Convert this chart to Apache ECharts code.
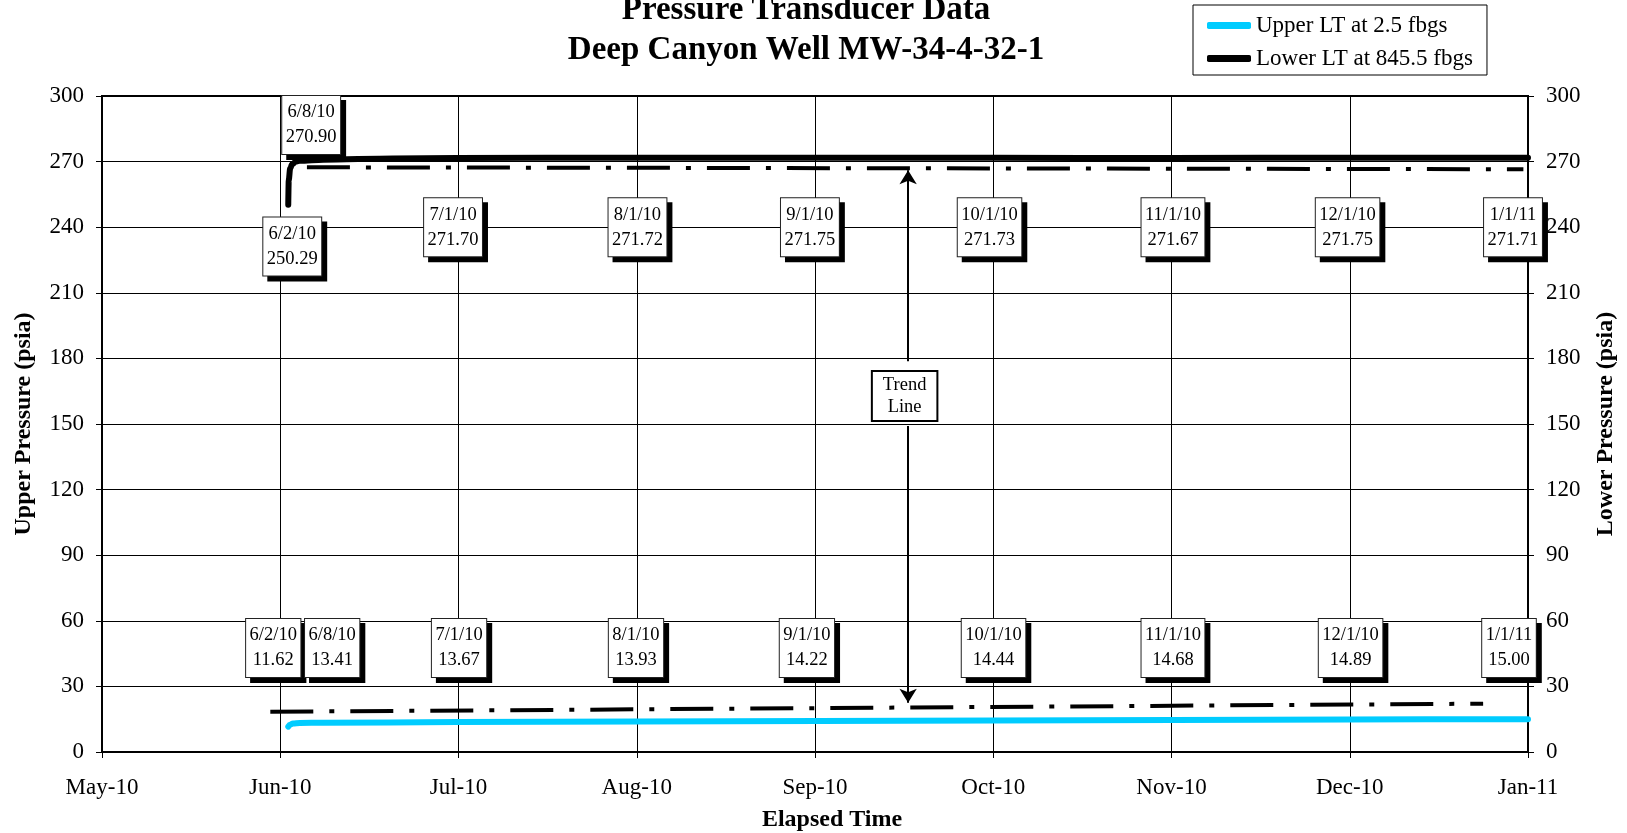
<!DOCTYPE html>
<html>
<head>
<meta charset="utf-8">
<script src="https://cdn.jsdelivr.net/npm/echarts@6/dist/echarts.min.js"></script>
<style>
html,body{margin:0;padding:0;background:#fff;}
#chart{width:1627px;height:833px;}
</style>
</head>
<body>
<div id="chart"></div>
<script>
// ---------- DATA ----------
const xTickLabels = ['May-10','Jun-10','Jul-10','Aug-10','Sep-10','Oct-10','Nov-10','Dec-10','Jan-11'];

const upperDates  = ['2010-06-02 00:00','2010-06-02 07:00','2010-06-02 19:00','2010-06-04 00:00','2010-06-08 00:00','2010-07-01 00:00','2010-08-01 00:00','2010-09-01 00:00','2010-10-01 00:00','2010-11-01 00:00','2010-12-01 00:00','2011-01-01 00:00'];
const upperValues = [11.62, 12.5, 13.0, 13.3, 13.41, 13.67, 13.93, 14.22, 14.44, 14.68, 14.89, 15.00];

const lowerDates  = ['2010-06-02 00:00','2010-06-02 02:00','2010-06-02 08:00','2010-06-02 16:00','2010-06-03 06:00','2010-06-04 00:00','2010-06-08 00:00','2010-06-20 00:00','2010-07-01 00:00','2010-08-01 00:00','2010-09-01 00:00','2010-10-01 00:00','2010-11-01 00:00','2010-12-01 00:00','2011-01-01 00:00'];
const lowerValues = [250.29, 261.5, 267.0, 268.8, 269.9, 270.4, 270.90, 271.4, 271.70, 271.72, 271.75, 271.73, 271.67, 271.75, 271.71];

const upperTrendDates  = ['2010-05-29 22:00','2010-12-24 07:00'];
const upperTrendValues = [18.4, 22.1];
const lowerTrendDates  = ['2010-06-05 05:00','2010-12-31 05:00'];
const lowerTrendValues = [267.4, 266.5];

const lowerNoteDates  = ['6/2/10','6/8/10','7/1/10','8/1/10','9/1/10','10/1/10','11/1/10','12/1/10','1/1/11'];
const lowerNoteValues = ['250.29','270.90','271.70','271.72','271.75','271.73','271.67','271.75','271.71'];
const upperNoteDates  = ['6/2/10','6/8/10','7/1/10','8/1/10','9/1/10','10/1/10','11/1/10','12/1/10','1/1/11'];
const upperNoteValues = ['11.62','13.41','13.67','13.93','14.22','14.44','14.68','14.89','15.00'];

const seriesNames = ['Upper LT at 2.5 fbgs','Lower LT at 845.5 fbgs'];
const trendNoteText = 'Trend\nLine';

// ---------- LAYOUT (placement of the annotation boxes: [x offset px, level on axis]) ----------
const lowerNoteLayout = [[4,231.2],[-12,286.7],[-4,240],[0,240],[-8,240],[-3,240],[0,240],[0,240],[-15,240]];
const upperNoteLayout = [[-15,47.6],[9,47.6],[2,47.6],[-1.5,47.6],[-11,47.6],[1,47.6],[0,47.6],[3,47.6],[-19,47.6]];
const trendArrowDate = '2010-09-16 12:00';
const trendArrowSpans = [[178.7, 266.0],[149.1, 22.5]];
const trendBoxLevel = 162.8;

// ---------- helpers ----------
const ORIGIN = Date.UTC(2010,4,1);
const DAY = 86400000;
const monthStep = 245/8;
function dayOf(s){
  const [d,t] = s.split(' ');
  const [y,m,dd] = d.split('-').map(Number);
  const [hh,mm] = (t||'00:00').split(':').map(Number);
  return (Date.UTC(y,m-1,dd,hh,mm) - ORIGIN)/DAY;
}
function dayOfMDY(s){
  const [m,d,y] = s.split('/').map(Number);
  return (Date.UTC(2000+y,m-1,d) - ORIGIN)/DAY;
}
const pairs = (xs, ys, f) => xs.map((x,i)=>[f(x), ys[i]]);

const FONT = '"Liberation Serif","Times New Roman",serif';

const noteLabelBase = {
  show: true, position: 'inside', fontFamily: FONT, fontSize: 18.5, opacity: 1,
  lineHeight: 25, padding: [4,3.5,4,3.5], align: 'center', verticalAlign: 'middle'
};

function notes(dates, values, layout, shadow){
  return dates.map((d,i)=>({
    value: [dayOfMDY(d), layout[i][1]],
    label: Object.assign({}, noteLabelBase, shadow ? {
      formatter: d + '\n' + values[i], color: 'rgba(0,0,0,0)', backgroundColor: '#000',
      borderColor: '#000', borderWidth: 1, offset: [layout[i][0] + 5, 5]
    } : {
      formatter: d + '\n' + values[i], color: '#000', backgroundColor: '#fff',
      borderColor: '#222', borderWidth: 1, offset: [layout[i][0], 0]
    })
  }));
}

const arrowDay = dayOf(trendArrowDate);

const chart = echarts.init(document.getElementById('chart'), null, {renderer:'canvas'});
chart.setOption({
  animation: false,
  backgroundColor: '#fff',
  title: {
    text: 'Pressure Transducer Data\nDeep Canyon Well MW-34-4-32-1',
    left: 801, top: -15, textAlign: 'center',
    textStyle: {fontFamily: FONT, fontSize: 33, fontWeight: 'bold', color: '#000', lineHeight: 40.5}
  },
  legend: {
    data: seriesNames,
    orient: 'vertical', left: 1193, top: 5,
    padding: [9,14,5,14], itemGap: 10,
    itemWidth: 44, itemHeight: 7, icon: 'roundRect',
    borderColor: '#000', borderWidth: 1, backgroundColor: '#fff',
    textStyle: {fontFamily: FONT, fontSize: 23, color: '#000'}
  },
  grid: {left: 102, right: 99, top: 96, bottom: 81, show: true, borderColor: '#000', borderWidth: 2,
    backgroundColor: 'transparent', containLabel: false, outerBoundsMode: 'none'},
  xAxis: {
    type: 'value', min: 0, max: 245, interval: monthStep,
    name: 'Elapsed Time', nameLocation: 'middle', nameGap: 56,
    nameTextStyle: {fontFamily: FONT, fontSize: 24, fontWeight: 'bold', color: '#000', padding: [0,0,0,34]},
    axisLine: {lineStyle: {color: '#000', width: 2}},
    axisTick: {show: true, inside: false, length: 6, lineStyle: {color: '#000', width: 1}},
    axisLabel: {fontFamily: FONT, fontSize: 23, color: '#000', margin: 24,
      formatter: v => xTickLabels[Math.round(v/monthStep)] || ''},
    splitLine: {show: true, lineStyle: {color: '#000', width: 1}}
  },
  yAxis: [
    {
      type: 'value', min: 0, max: 300, interval: 30, position: 'left',
      name: 'Upper Pressure (psia)', nameLocation: 'middle', nameGap: 66, nameRotate: 90,
      nameTextStyle: {fontFamily: FONT, fontSize: 24, fontWeight: 'bold', color: '#000'},
      axisLine: {show: true, lineStyle: {color: '#000', width: 2}},
      axisTick: {show: true, inside: false, length: 6, lineStyle: {color: '#000', width: 1}},
      axisLabel: {fontFamily: FONT, fontSize: 23, color: '#000', margin: 18},
      splitLine: {show: true, lineStyle: {color: '#000', width: 1}}
    },
    {
      type: 'value', min: 0, max: 300, interval: 30, position: 'right',
      name: 'Lower Pressure (psia)', nameLocation: 'middle', nameGap: 66, nameRotate: 90,
      nameTextStyle: {fontFamily: FONT, fontSize: 24, fontWeight: 'bold', color: '#000'},
      axisLine: {show: true, lineStyle: {color: '#000', width: 2}},
      axisTick: {show: true, inside: false, length: 6, lineStyle: {color: '#000', width: 1}},
      axisLabel: {fontFamily: FONT, fontSize: 23, color: '#000', margin: 18},
      splitLine: {show: false}
    }
  ],
  series: [
    {
      name: seriesNames[0], type: 'line', yAxisIndex: 0, showSymbol: false, symbol: 'none',
      smooth: 0.3, smoothMonotone: 'x',
      color: '#00CCFF',
      lineStyle: {color: '#00CCFF', width: 6, cap: 'round', join: 'round'},
      data: pairs(upperDates, upperValues, dayOf), z: 3
    },
    {
      name: seriesNames[1], type: 'line', yAxisIndex: 1, showSymbol: false, symbol: 'none',
      smooth: 0.3, smoothMonotone: 'x',
      color: '#000',
      lineStyle: {color: '#000', width: 6, cap: 'round', join: 'round'},
      data: pairs(lowerDates, lowerValues, dayOf), z: 3
    },
    {
      name: 'upperTrend', type: 'line', yAxisIndex: 0, showSymbol: false, symbol: 'none',
      lineStyle: {color: '#000', width: 4, type: [43,16,5,16]},
      data: pairs(upperTrendDates, upperTrendValues, dayOf), z: 2
    },
    {
      name: 'lowerTrend', type: 'line', yAxisIndex: 1, showSymbol: false, symbol: 'none',
      lineStyle: {color: '#000', width: 4, type: [43,16,5,16]},
      data: pairs(lowerTrendDates, lowerTrendValues, dayOf), z: 2
    },
    {
      name: 'noteShadows', type: 'scatter', yAxisIndex: 0, symbolSize: 0, z: 9, silent: true,
      itemStyle: {opacity: 1},
      data: notes(lowerNoteDates, lowerNoteValues, lowerNoteLayout, true)
        .concat(notes(upperNoteDates, upperNoteValues, upperNoteLayout, true))
    },
    {
      name: 'notes', type: 'scatter', yAxisIndex: 0, symbolSize: 0, z: 10, silent: true,
      itemStyle: {opacity: 1},
      data: notes(lowerNoteDates, lowerNoteValues, lowerNoteLayout, false)
        .concat(notes(upperNoteDates, upperNoteValues, upperNoteLayout, false))
        .concat([{
          value: [arrowDay, trendBoxLevel],
          label: {show: true, position: 'inside', formatter: trendNoteText, color: '#000', opacity: 1,
            fontFamily: FONT, fontSize: 18.5, lineHeight: 22, backgroundColor: '#fff',
            borderColor: '#000', borderWidth: 2, padding: [2,10,2,10], align: 'center',
            verticalAlign: 'middle', offset: [-3.5, 0]}
        }]),
      markLine: {
        silent: true, symbol: ['none','arrow'], symbolSize: [13,14],
        lineStyle: {color: '#000', width: 2, type: 'solid', opacity: 1},
        label: {show: false},
        data: trendArrowSpans.map(s => [{coord: [arrowDay, s[0]]},{coord: [arrowDay, s[1]]}])
      }
    }
  ]
});
</script>
</body>
</html>
